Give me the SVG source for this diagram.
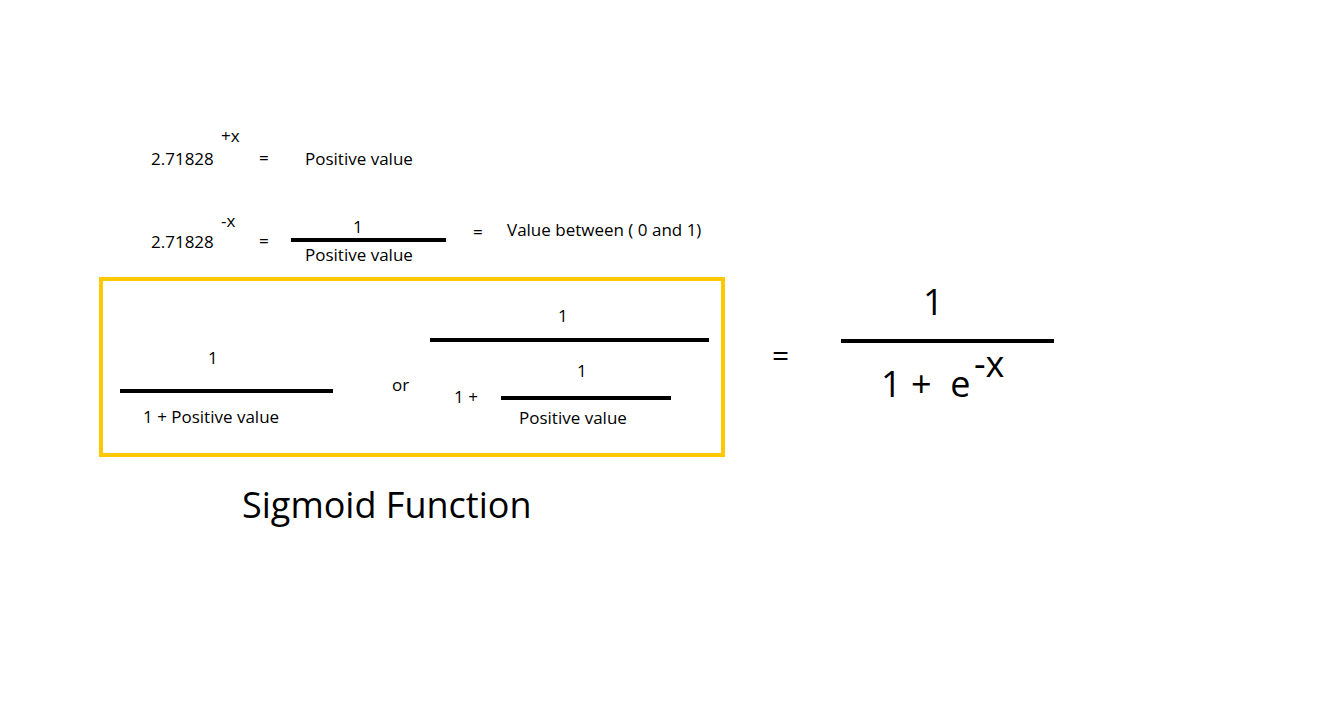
<svg xmlns="http://www.w3.org/2000/svg" width="1339" height="705" viewBox="0 0 1339 705">
<style>
text{font-family:"Open Sans","Noto Sans",sans-serif;fill:#000}
.s{font-size:17px}
.l{font-size:36px}
.bar{stroke:#000;stroke-width:4}
</style>
<rect width="1339" height="705" fill="#fff"/>
<g id="eq1">
<text class="s" x="151" y="165">2.71828</text>
<text class="s" x="221" y="142">+x</text>
<text class="s" x="259" y="164">=</text>
<text class="s" x="305" y="165">Positive value</text>
</g>
<g id="eq2">
<text class="s" x="151" y="248">2.71828</text>
<text class="s" x="221" y="227">-x</text>
<text class="s" x="259" y="247">=</text>
<text class="s" x="353" y="233">1</text>
<line class="bar" x1="291" y1="240" x2="446" y2="240"/>
<text class="s" x="305" y="261">Positive value</text>
<text class="s" x="473" y="238">=</text>
<text class="s" x="507" y="236">Value between ( 0 and 1)</text>
</g>
<g id="box">
<rect x="101" y="279" width="622" height="176" fill="none" stroke="#FFC800" stroke-width="4"/>
<text class="s" x="208" y="364">1</text>
<line class="bar" x1="120" y1="391" x2="333" y2="391"/>
<text class="s" x="143" y="423">1 + Positive value</text>
<text class="s" x="392" y="391">or</text>
<text class="s" x="558" y="322">1</text>
<line class="bar" x1="430" y1="340" x2="709" y2="340"/>
<text class="s" x="577" y="377">1</text>
<text class="s" x="454" y="403">1  +</text>
<line class="bar" x1="501" y1="398" x2="671" y2="398"/>
<text class="s" x="519" y="424">Positive value</text>
</g>
<g id="result">
<text x="772" y="366" style="font-size:30px">=</text>
<text class="l" x="923" y="315">1</text>
<line class="bar" x1="841" y1="341" x2="1054" y2="341"/>
<text class="l" x="881" y="397" xml:space="preserve">1 +  e</text>
<text class="l" x="974" y="377">-x</text>
</g>
<text class="l" x="242" y="518">Sigmoid Function</text>
<g id="connectors"/>
</svg>
